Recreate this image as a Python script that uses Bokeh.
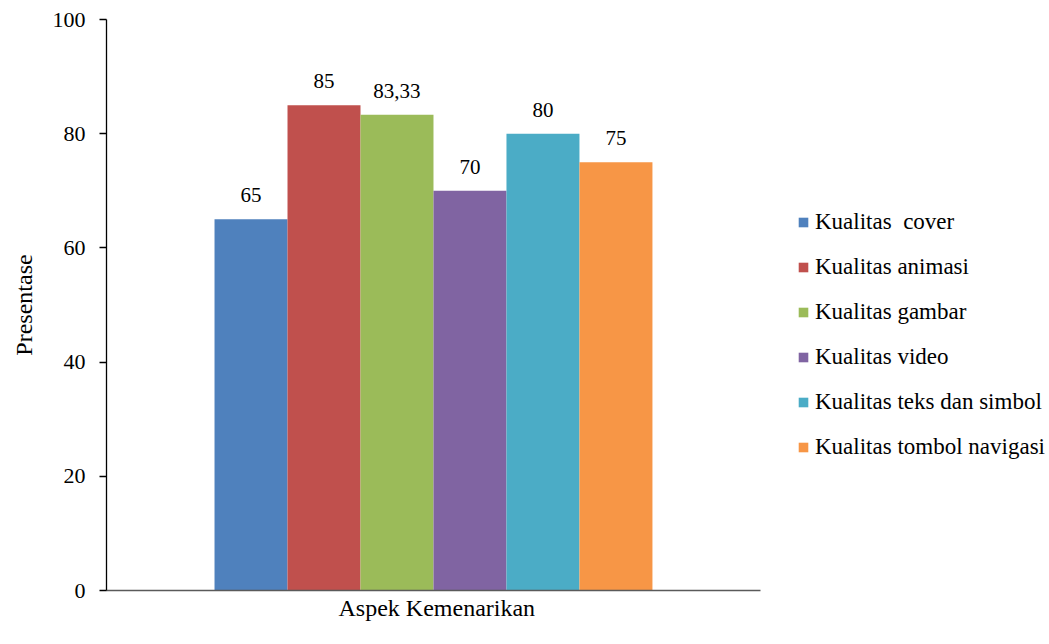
from bokeh.plotting import figure
from bokeh.models import ColumnDataSource, Range1d, FixedTicker, Legend, LegendItem, Title
from bokeh.core.properties import value
from bokeh.embed import file_html
from bokeh.resources import INLINE
import numpy as np

# Assessment aspects and their percentage scores
aspects = [
    "Kualitas  cover",
    "Kualitas animasi",
    "Kualitas gambar",
    "Kualitas video",
    "Kualitas teks dan simbol",
    "Kualitas tombol navigasi",
]
scores = [65, 85, 83.33, 70, 80, 75]
score_labels = ["65", "85", "83,33", "70", "80", "75"]
colors = ["#4F81BD", "#C0504D", "#9BBB59", "#8064A2", "#4BACC6", "#F79646"]
y_ticks = [0, 20, 40, 60, 80, 100]

FONT = "Liberation Serif"

positions = np.arange(len(aspects))
source = ColumnDataSource(dict(
    x=positions, top=scores, label=score_labels, color=colors, aspect=aspects,
))

# horizontal extent of the category axis (bars plus side gaps), in bar widths
axis_start, axis_end = -1.98, 6.98

p = figure(
    width=1049, height=644, output_backend="svg", toolbar_location=None,
    x_range=Range1d(axis_start, 10.94), y_range=Range1d(0, 100),
    min_border_left=106, min_border_right=0, min_border_top=19, min_border_bottom=54,
)
p.outline_line_color = None
p.xgrid.visible = False
p.ygrid.visible = False
p.background_fill_color = "white"
p.border_fill_color = "white"

bars = p.vbar(x="x", top="top", width=1.0, bottom=0, source=source,
              fill_color="color", line_color=None)

p.text(x="x", y="top", text="label", source=source, y_offset=-24,
       text_align="center", text_baseline="alphabetic",
       text_font=value(FONT), text_font_size="21px", text_color="black")

# Y axis
p.yaxis.ticker = FixedTicker(ticks=y_ticks)
p.yaxis.major_tick_out = 7
p.yaxis.major_tick_in = 0
p.yaxis.minor_tick_out = 0
p.yaxis.minor_tick_in = 0
p.yaxis.axis_line_color = "black"
p.yaxis.axis_line_width = 1.3
p.yaxis.major_tick_line_color = "black"
p.yaxis.major_tick_line_width = 1.3
p.yaxis.major_label_standoff = 14
p.yaxis.major_label_text_font = FONT
p.yaxis.major_label_text_font_size = "22px"
p.yaxis.major_label_text_color = "black"
p.yaxis.axis_label = "Presentase"
p.yaxis.axis_label_text_font = FONT
p.yaxis.axis_label_text_font_size = "24px"
p.yaxis.axis_label_text_font_style = "normal"
p.yaxis.axis_label_text_color = "black"
p.yaxis.axis_label_standoff = 13

# X axis: single group, no tick labels, line limited to the bar group;
# the (invisible) tick length reserves room above the axis title
p.xaxis.ticker = FixedTicker(ticks=[])
p.xaxis.bounds = (axis_start, axis_end)
p.xaxis.minor_tick_out = 0
p.xaxis.minor_tick_in = 0
p.xaxis.major_tick_out = 15
p.xaxis.major_tick_in = 0
p.xaxis.major_label_text_font_size = "0px"
p.xaxis.major_label_standoff = 0
p.xaxis.axis_line_color = "#5a5a5a"
p.xaxis.axis_line_width = 1.5

# X axis title, centred under the bar group
p.add_layout(Title(text="Aspek Kemenarikan", align="left", offset=232,
                   text_font=FONT, text_font_size="24px", text_font_style="normal",
                   text_color="black", standoff=5), "below")

legend = Legend(
    items=[LegendItem(label=a, renderers=[bars], index=i) for i, a in enumerate(aspects)],
    location=(691, 130),
    glyph_width=12, glyph_height=12, label_standoff=6,
    label_height=27, spacing=18, padding=0, margin=0,
    label_text_font=FONT, label_text_font_size="23px", label_text_color="black",
    border_line_color=None, background_fill_alpha=0,
)
p.add_layout(legend, "center")

open("out.html", "w").write(file_html(p, INLINE))
